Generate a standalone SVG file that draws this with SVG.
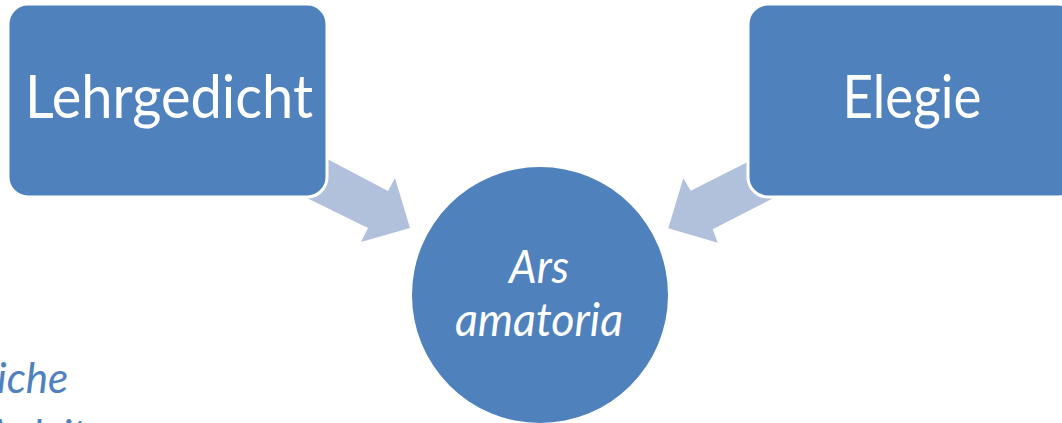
<svg xmlns="http://www.w3.org/2000/svg" width="1062" height="423" viewBox="0 0 1062 423">
  <style>
    .box { fill: #4F81BD; stroke: #FFFFFF; stroke-width: 3; }
    .arrow { fill: #B2C1DB; }
    .lbl { fill: #FFFFFF; font-family: Lato, "Open Sans", "Liberation Sans", sans-serif; text-anchor: middle; }
    .side { fill: #4F81BD; font-family: Lato, "Open Sans", "Liberation Sans", sans-serif; font-style: italic; font-size: 42px; }
  </style>
  <rect width="1062" height="423" fill="#FFFFFF"/>
  <g id="side-text">
    <text class="side" x="-3" y="393">iche</text>
    <text class="side" x="-16" y="450">Anleitung</text>
  </g>
  <g id="connectors">
    <polygon class="arrow" points="304.5,147 388,191 395,178 410,228 361,242 368,228 286.5,188"/>
    <polygon class="arrow" points="771.5,150 690.7,190.7 683.3,178.3 668.3,228.3 717.7,242.7 712.7,229.3 793,188"/>
  </g>
  <g id="node-lehrgedicht">
    <rect class="box" x="8" y="4" width="319" height="193" rx="20" ry="20"/>
    <text class="lbl" x="169" y="118" font-size="60" textLength="288" lengthAdjust="spacingAndGlyphs">Lehrgedicht</text>
  </g>
  <g id="node-elegie">
    <rect class="box" x="748" y="4" width="330" height="193" rx="20" ry="20"/>
    <text class="lbl" x="912" y="118" font-size="60" textLength="139" lengthAdjust="spacingAndGlyphs">Elegie</text>
  </g>
  <g id="node-ars-amatoria">
    <circle cx="540" cy="295" r="128" fill="#4F81BD"/>
    <text class="lbl" x="539" y="283" font-size="47" font-style="italic" textLength="60" lengthAdjust="spacingAndGlyphs">Ars</text>
    <text class="lbl" x="539" y="336" font-size="47" font-style="italic" textLength="168" lengthAdjust="spacingAndGlyphs">amatoria</text>
  </g>
</svg>
